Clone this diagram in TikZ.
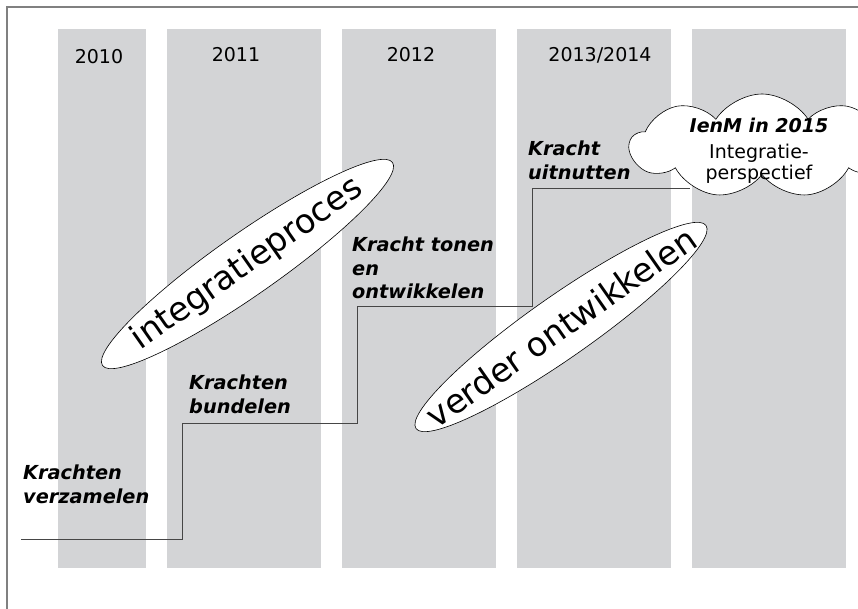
\documentclass[tikz,border=0pt]{standalone}
\usepackage{fontspec}
\setmainfont{DejaVu Sans}
\usetikzlibrary{shapes.geometric,shapes.symbols}
\definecolor{colgray}{RGB}{211,212,214}
\definecolor{framegray}{RGB}{128,128,128}
\definecolor{stepgray}{RGB}{70,70,70}
\newcommand{\ovaltext}[1]{\makebox[0pt][c]{#1}}
\begin{document}
\begin{tikzpicture}[x=1pt,y=-1pt,
  column/.style={fill=colgray,draw=none},
  year/.style={font=\fontsize{19}{23}\selectfont,inner sep=0pt},
  phase/.style={font=\fontsize{19.3}{23.5}\selectfont\bfseries\itshape,align=left,anchor=north west,inner sep=0pt},
  oval/.style={ellipse,draw=black,line width=0.6pt,fill=white,minimum width=354pt,minimum height=62pt,inner sep=0pt,rotate=35,font=\fontsize{33.5}{36}\selectfont},
  stepline/.style={draw=stepgray,line width=1pt},
  frameline/.style={draw=framegray,line width=1.4pt},
  goal/.style={cloud,cloud puffs=9,cloud puff arc=115,cloud ignores aspect,draw=black,line width=0.6pt,fill=white,minimum width=264pt,minimum height=104pt,inner sep=0pt},
  goaltext/.style={inner sep=0pt,align=center,font=\fontsize{19}{21}\selectfont}
]
\useasboundingbox (0,0) rectangle (858,609);
\fill[white] (0,0) rectangle (858,609);
% frame
\coordinate (fb) at (7,612);
\coordinate (fc) at (7,7);
\coordinate (fr) at (862,7);
\draw[frameline] (fb) -- (fc) -- (fr);
% columns
\path[column] (58,29) rectangle (146,568);
\path[column] (167,29) rectangle (321,568);
\path[column] (342,29) rectangle (496,568);
\path[column] (517,29) rectangle (671,568);
\path[column] (692,29) rectangle (846,568);
% years
\node[year] (y2010) at (99,57) {2010};
\node[year] (y2011) at (236,55) {2011};
\node[year] (y2012) at (411,55) {2012};
\node[year] (y2013) at (600,55) {2013/2014};
% staircase
\coordinate (s0) at (21,539);
\coordinate (s1) at (182,539);
\coordinate (s2) at (182,423);
\coordinate (s3) at (357,423);
\coordinate (s4) at (357,306);
\coordinate (s5) at (532,306);
\coordinate (s6) at (532,189);
\coordinate (s7) at (690,189);
\draw[stepline] (s0) -- (s1) -- (s2) -- (s3) -- (s4) -- (s5) -- (s6) -- (s7);
% phase labels
\node[phase] (p1) at (23,465) {Krachten\\verzamelen};
\node[phase] (p2) at (189,375) {Krachten\\bundelen};
\node[phase] (p3) at (352,237) {Kracht tonen\\en\\ontwikkelen};
\node[phase] (p4) at (528,141) {Kracht\\uitnutten};
% ovals
\node[oval] (o1) at (247.5,264) {\ovaltext{integratieproces}};
\node[oval] (o2) at (561,327) {\ovaltext{verder ontwikkelen}};
% cloud
\node[goal] (goal) at (762,146) {};
\node[goaltext] (goaltxt) at (759,151) {{\bfseries\itshape IenM in 2015}\\[5pt]Integratie-\\perspectief};
\end{tikzpicture}
\end{document}
